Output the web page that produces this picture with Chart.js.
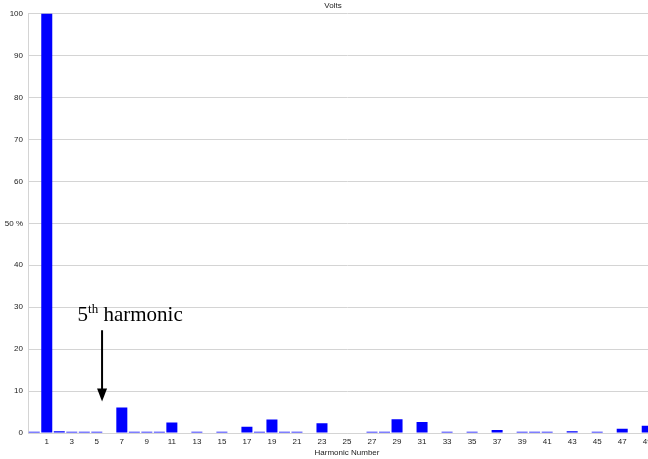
<!DOCTYPE html>
<html>
<head>
<meta charset="utf-8">
<script src="https://cdn.jsdelivr.net/npm/chart.js@4/dist/chart.umd.min.js"></script>
<style>
  html, body { margin: 0; padding: 0; background: #fff; overflow: hidden; }
  #wrap { width: 648px; height: 459px; overflow: hidden; }
  canvas { display: block; }
</style>
</head>
<body>
<div id="wrap"><canvas id="c" width="680" height="459"></canvas></div>
<script>
// Harmonic orders (0 = DC) and their magnitude as % of the fundamental
const harmonics = [0,1,2,3,4,5,6,7,8,9,10,11,12,13,14,15,16,17,18,19,20,21,22,23,24,25,
                   26,27,28,29,30,31,32,33,34,35,36,37,38,39,40,41,42,43,44,45,46,47,48,49,50];
const voltsPercent = [0.3,100,0.4,0.3,0.3,0.3,0,6.1,0.3,0.3,0.3,2.5,0,0.3,0,0.3,0,1.5,0.3,3.2,
                      0.3,0.3,0,2.3,0,0,0,0.3,0.3,3.3,0,2.6,0,0.3,0,0.3,0,0.7,0,0.3,
                      0.3,0.3,0,0.4,0,0.3,0,1.0,0,1.75,0];
const yTicks = [0,10,20,30,40,50,60,70,80,90,100];

const tickFont = { family: 'Liberation Sans', size: 8 };
const tickColor = '#222';
const gridColor = '#d4d4d4';

// Callout pointing at the 5th harmonic
const calloutPlugin = {
  id: 'callout',
  afterDatasetsDraw(chart) {
    const { ctx, scales: { x, y } } = chart;
    const step = x.getPixelForValue(6) - x.getPixelForValue(5);
    const ax = x.getPixelForValue(5) + 0.42 * step;
    const yTop = y.getPixelForValue(24.5);
    const yTip = y.getPixelForValue(7.5);
    ctx.save();
    ctx.strokeStyle = '#000';
    ctx.fillStyle = '#000';
    ctx.lineWidth = 2;
    ctx.beginPath();
    ctx.moveTo(ax, yTop);
    ctx.lineTo(ax, yTip - 10);
    ctx.stroke();
    ctx.beginPath();
    ctx.moveTo(ax - 5, yTip - 13);
    ctx.lineTo(ax + 5, yTip - 13);
    ctx.lineTo(ax, yTip);
    ctx.closePath();
    ctx.fill();

    let tx = x.getPixelForValue(5) - 1.5 * step - 0.5;
    const base = y.getPixelForValue(26.6);
    ctx.textBaseline = 'alphabetic';
    ctx.textAlign = 'left';
    ctx.font = '21px "Liberation Serif"';
    ctx.fillText('5', tx, base);
    tx += ctx.measureText('5').width;
    ctx.font = '13px "Liberation Serif"';
    ctx.fillText('th', tx, base - 8);
    tx += ctx.measureText('th').width;
    ctx.font = '21px "Liberation Serif"';
    ctx.fillText(' harmonic', tx, base);
    ctx.restore();
  }
};

new Chart(document.getElementById('c'), {
  type: 'bar',
  data: {
    labels: harmonics,
    datasets: [{
      data: voltsPercent,
      backgroundColor: '#0000ff',
      borderWidth: 0,
      barPercentage: 0.88,
      categoryPercentage: 1.0
    }]
  },
  options: {
    responsive: false,
    animation: false,
    layout: { padding: { left: 0, right: 14, top: 0, bottom: 0 } },
    plugins: {
      legend: { display: false },
      tooltip: { enabled: false },
      title: {
        display: true,
        text: 'Volts',
        color: tickColor,
        font: { family: 'Liberation Sans', size: 8, weight: 'normal' },
        padding: { top: 1, bottom: 3 }
      }
    },
    scales: {
      x: {
        afterFit: (s) => { s.height = 26; },
        grid: { display: false, drawTicks: false },
        border: { display: true, color: gridColor },
        ticks: {
          autoSkip: false,
          maxRotation: 0,
          minRotation: 0,
          padding: 4,
          color: tickColor,
          font: tickFont,
          callback: (v, i) => (harmonics[i] % 2 === 1 ? String(harmonics[i]) : '')
        },
        title: {
          display: true,
          text: 'Harmonic Number',
          color: tickColor,
          font: tickFont,
          padding: { top: 1, bottom: 1 }
        }
      },
      y: {
        min: 0,
        max: 100,
        afterBuildTicks: (s) => { s.ticks = yTicks.map(v => ({ value: v })); },
        afterFit: (s) => { s.width = 28; },
        grid: { color: gridColor, drawTicks: false },
        border: { display: true, color: gridColor },
        ticks: {
          padding: 5,
          color: tickColor,
          font: tickFont,
          callback: (v) => (v === 50 ? '50 %' : String(v))
        }
      }
    }
  },
  plugins: [calloutPlugin]
});
</script>
</body>
</html>
